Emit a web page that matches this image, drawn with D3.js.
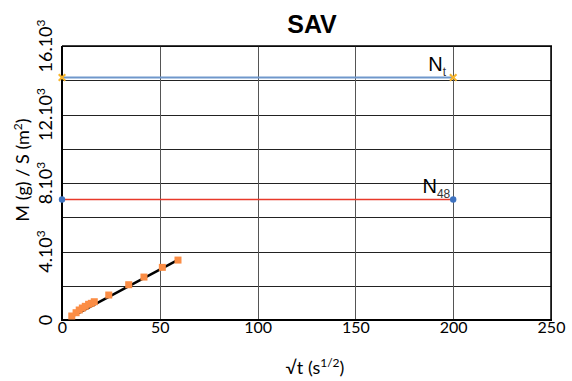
<!DOCTYPE html>
<html><head><meta charset="utf-8">
<script src="https://cdn.jsdelivr.net/npm/d3@7"></script>
<style>body{margin:0;background:#fff}svg{display:block}</style>
</head><body>
<script>
// Data
const sqrtT = [5.0, 7.2, 8.8, 10.4, 11.9, 13.6, 15.0, 16.5, 23.9, 34.1, 41.9, 51.3, 59.3];
const massPerArea = [233, 426, 583, 700, 799, 916, 974, 1067, 1458, 2060, 2507, 3073, 3499];
const fitX = [5.0, 59.3];
const fitY = [200, 3510];
const refX = [0, 200];
const Nt = 14170;
const N48 = 7060;
const xTicks = [0, 50, 100, 150, 200, 250];
const yGrid = [0, 2000, 4000, 6000, 8000, 10000, 12000, 14000, 16000];
const yLabelTicks = [0, 4000, 8000, 12000, 16000];
const yLabels = ["0", "4.10", "8.10", "12.10", "16.10"];

const W = 572, H = 381;
const svg = d3.select("body").append("svg").attr("width", W).attr("height", H);
const L = 62, R = 551, T = 46, B = 320;
const x = d3.scaleLinear().domain([0, 250]).range([L, R]);
const y = d3.scaleLinear().domain([0, 16000]).range([B, T]);
const FONT = "Lato, 'Open Sans', sans-serif";

// gridlines
svg.append("g").selectAll("line").data(yGrid.slice(1)).join("line")
  .attr("x1", L).attr("x2", R).attr("y1", d => Math.round(y(d)) + 0.5).attr("y2", d => Math.round(y(d)) + 0.5)
  .attr("stroke", "#222").attr("stroke-width", 1);
svg.append("g").selectAll("line").data(xTicks.slice(1)).join("line")
  .attr("y1", T).attr("y2", B).attr("x1", d => Math.round(x(d)) + 0.5).attr("x2", d => Math.round(x(d)) + 0.5)
  .attr("stroke", "#555").attr("stroke-width", 1);

// axes lines
svg.append("line").attr("x1", L).attr("x2", L).attr("y1", T).attr("y2", B + 1).attr("stroke", "#000").attr("stroke-width", 2);
svg.append("line").attr("x1", L - 1).attr("x2", R + 1).attr("y1", B).attr("y2", B).attr("stroke", "#000").attr("stroke-width", 2);
svg.append("line").attr("x1", L).attr("x2", R + 1).attr("y1", T).attr("y2", T).attr("stroke", "#000").attr("stroke-width", 1.5);
svg.append("line").attr("x1", R).attr("x2", R).attr("y1", T).attr("y2", B).attr("stroke", "#000").attr("stroke-width", 1.5);

// x tick labels via axis
const xAxis = svg.append("g").attr("transform", `translate(0,${B})`)
  .call(d3.axisBottom(x).tickValues(xTicks).tickSize(0).tickPadding(2).tickFormat(d3.format("d")));
xAxis.select(".domain").remove();
xAxis.selectAll("text").attr("font-family", FONT).attr("font-size", 16).attr("fill", "#000");

// y tick labels (rotated)
const yl = svg.append("g");
yLabelTicks.forEach((v, i) => {
  const t = yl.append("text").attr("transform", `translate(52,${y(v)}) rotate(-90)`)
    .attr("text-anchor", "middle").attr("font-family", FONT)
    .attr("font-size", 18).attr("fill", "#000");
  t.append("tspan").text(yLabels[i]);
  if (i > 0) t.append("tspan").attr("dy", -7).attr("font-size", 12).text("3");
});

// Nt line and markers
svg.append("line").attr("x1", x(refX[0])).attr("x2", x(refX[1]))
  .attr("y1", Math.round(y(Nt)) + 0.5).attr("y2", Math.round(y(Nt)) + 0.5)
  .attr("stroke", "#6f97cb").attr("stroke-width", 2);
svg.append("g").selectAll("path").data(refX).join("path")
  .attr("d", d3.symbol().type(d3.symbolX).size(30))
  .attr("transform", d => `translate(${x(d)},${Math.round(y(Nt)) + 0.5})`)
  .attr("stroke", "#f7b52c").attr("stroke-width", 2).attr("fill", "none");

// N48 line and markers
svg.append("line").attr("x1", x(refX[0])).attr("x2", x(refX[1]))
  .attr("y1", Math.round(y(N48)) + 0.5).attr("y2", Math.round(y(N48)) + 0.5)
  .attr("stroke", "#e8392a").attr("stroke-width", 1.3);
svg.append("g").selectAll("circle").data(refX).join("circle")
  .attr("cx", d => x(d)).attr("cy", Math.round(y(N48)) + 0.5).attr("r", 3.2).attr("fill", "#3e73c1");

// labels
const lab = (xv, yv, main, sub) => {
  const t = svg.append("text").attr("x", x(xv)).attr("y", y(yv) - 6).attr("text-anchor", "start")
    .attr("font-family", "'Liberation Sans', Arial, sans-serif").attr("font-size", 20).attr("fill", "#000");
  t.append("tspan").text(main);
  t.append("tspan").attr("dy", 5).attr("font-size", 12).attr("fill", "#333").text(sub);
};
lab(187.3, Nt, "N", "t");
lab(184.3, N48, "N", "48");

// fit line
svg.append("path").datum(fitX.map((d, i) => [d, fitY[i]]))
  .attr("d", d3.line().x(d => x(d[0])).y(d => y(d[1])))
  .attr("stroke", "#000").attr("stroke-width", 2.5).attr("fill", "none");

// data points
svg.append("g").selectAll("rect").data(sqrtT.map((d, i) => [d, massPerArea[i]])).join("rect")
  .attr("x", d => x(d[0]) - 3.5).attr("y", d => y(d[1]) - 3.5).attr("width", 7).attr("height", 7)
  .attr("fill", "#fb8d45");

// titles
svg.append("text").attr("x", 312).attr("y", 33).attr("text-anchor", "middle")
  .attr("font-family", "'Liberation Sans', Arial, sans-serif").attr("font-weight", "bold").attr("font-size", 25)
  .text("SAV");

const xt = svg.append("text").attr("x", 315).attr("y", 374).attr("text-anchor", "middle")
  .attr("font-family", FONT).attr("font-size", 18);
xt.append("tspan").text("\u221At (s");
xt.append("tspan").attr("dy", -7).attr("font-size", 12).text("1/2");
xt.append("tspan").attr("dy", 7).text(")");

const yt = svg.append("text").attr("transform", "translate(29,170) rotate(-90)").attr("text-anchor", "middle")
  .attr("font-family", FONT).attr("font-size", 18);
yt.append("tspan").text("M (g) / S (m");
yt.append("tspan").attr("dy", -7).attr("font-size", 12).text("2");
yt.append("tspan").attr("dy", 7).text(")");
</script>
</body></html>
